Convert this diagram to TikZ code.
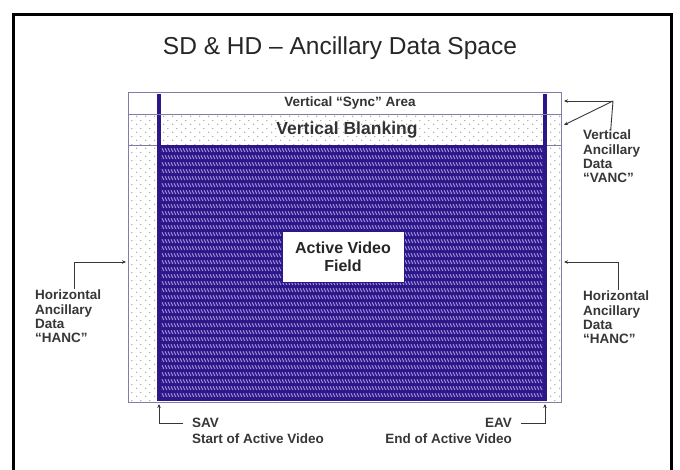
\documentclass[tikz,border=0pt]{standalone}
\usepackage{fontspec}
\setmainfont{Liberation Sans}
\usetikzlibrary{arrows.meta,patterns}
\definecolor{navy}{RGB}{45,22,135}
\definecolor{hatchc}{RGB}{150,140,215}
\definecolor{rectc}{RGB}{125,125,165}
\definecolor{dotc}{RGB}{140,140,140}
\definecolor{labc}{RGB}{55,55,55}
\pgfdeclarepatternformonly{ancdots}{\pgfpoint{0pt}{0pt}}{\pgfpoint{9pt}{8pt}}{\pgfpoint{9pt}{8pt}}{%
  \pgfpathcircle{\pgfpoint{2pt}{2pt}}{0.7pt}%
  \pgfpathcircle{\pgfpoint{6.5pt}{6pt}}{0.7pt}%
  \pgfusepath{fill}}
\pgfdeclarepatternformonly{vidhatch}{\pgfpoint{-0.5pt}{-0.5pt}}{\pgfpoint{3.5pt}{7.5pt}}{\pgfpoint{3pt}{7pt}}{%
  \pgfsetlinewidth{0.95pt}%
  \pgfpathmoveto{\pgfpoint{0pt}{5.7pt}}%
  \pgfpathlineto{\pgfpoint{1.9pt}{2.0pt}}%
  \pgfusepath{stroke}}
\tikzset{
  lab/.style={font=\bfseries\fontsize{13.5}{14.2}\selectfont, text=labc, inner sep=0pt, align=left},
  conn/.style={draw=labc, line width=0.9pt, -{Stealth[length=4pt,width=3.5pt]}},
  bar/.style={fill=navy, draw=none}
}
\begin{document}
\begin{tikzpicture}[x=1pt,y=-1pt]
\useasboundingbox (0,0) rectangle (680,469);
\fill[white] (0,0) rectangle (680,469);
% outer frame
\draw[line width=3pt, black] (13,480) -- (13,14) -- (671,14) -- (671,480);
% title
\node[font=\fontsize{24.5}{28}\selectfont, text=black!85] (title) at (340,48) {SD \& HD – Ancillary Data Space};
% dotted background
\fill[white] (128,92) rectangle (561,402);
\fill[pattern=ancdots, pattern color=dotc] (128,114) rectangle (561,402);
\fill[white] (128,92) rectangle (561,114);
% active video
\fill[navy] (157,145) rectangle (547,401);
\fill[pattern=vidhatch, pattern color=hatchc] (161,147) rectangle (543,399);
\fill[bar] (157,94) rectangle (161,401);
\fill[bar] (543,94) rectangle (547,401);
% outlines
\draw[rectc, line width=0.8pt] (128,92) rectangle (561,402);
\draw[rectc, line width=0.8pt] (128,114) -- (561,114);
\draw[rectc, line width=0.6pt] (128,145) -- (157,145) (547,145) -- (561,145);
% texts in the diagram
\node[font=\bfseries\fontsize{13.5}{15}\selectfont, text=black!80] (sync) at (350,103) {Vertical “Sync” Area};
\node[font=\bfseries\fontsize{17.5}{19}\selectfont, text=black!80] (vblank) at (347,130) {Vertical Blanking};
\node[draw=navy, fill=white, line width=0.8pt, minimum width=122pt, minimum height=51pt, inner sep=0pt,
      font=\bfseries\fontsize{16}{18}\selectfont, text=black!85, align=center] (avf) at (343,256.5) {Active Video\\Field};
% labels
\node[lab, anchor=north west] (vanc) at (583,130) {Vertical\\Ancillary\\Data\\“VANC”};
\node[lab, anchor=north west] (hancL) at (35,290) {Horizontal\\Ancillary\\Data\\“HANC”};
\node[lab, anchor=north west] (hancR) at (583,291) {Horizontal\\Ancillary\\Data\\“HANC”};
\node[lab, anchor=west] (sav) at (192,423) {SAV};
\node[lab, anchor=west] (savt) at (192,439) {Start of Active Video};
\node[lab, anchor=east] (eav) at (512,423) {EAV};
\node[lab, anchor=east] (eavt) at (512,439) {End of Active Video};
% connector points
\coordinate (vcorner) at (613,101);
\coordinate (synctip) at (564,101);
\coordinate (blanktip) at (564,125);
\coordinate (hLtip) at (126,262);
\coordinate (hRtip) at (564,262);
\coordinate (savtip) at (159,404);
\coordinate (eavtip) at (545,404);
% connectors
\draw[draw=labc, line width=0.9pt] ([xshift=-1pt]vanc.north) -- (vcorner);
\draw[conn] (vcorner) -- (synctip);
\draw[conn] (vcorner) -- (blanktip);
\draw[conn] ([xshift=6pt,yshift=1pt]hancL.north) |- (hLtip);
\draw[conn] ([xshift=2pt,yshift=1pt]hancR.north) |- (hRtip);
\draw[conn] ([xshift=-9pt]sav.west) -| (savtip);
\draw[conn] ([xshift=9pt]eav.east) -| (eavtip);
\end{tikzpicture}
\end{document}
